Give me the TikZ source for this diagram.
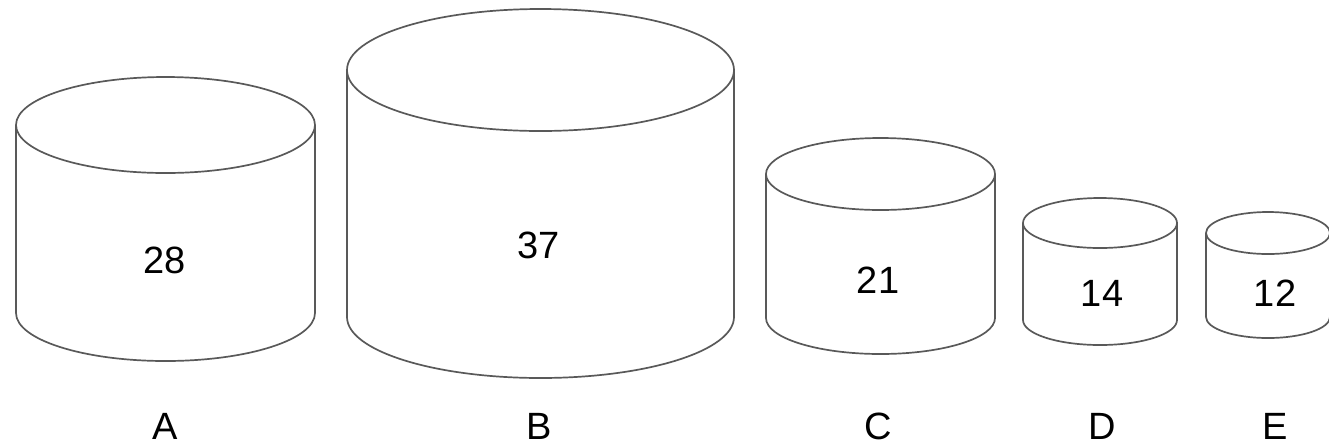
\documentclass[tikz,border=0pt]{standalone}
\usepackage{fontspec}
\setmainfont{Liberation Sans}
\usetikzlibrary{positioning}

\tikzset{
  can/.style={draw=black!65,line width=0.85pt},
  tag/.style={font=\fontsize{19}{21}\selectfont,inner sep=0pt}
}

\begin{document}
\begin{tikzpicture}[x=0.5pt,y=0.5pt]
\useasboundingbox (0,0) rectangle (1329,-446);
% cylinders: name/centre x/x radius/top y/bottom y/y radius/number/number x/number y
\foreach \n/\cx/\rx/\yt/\yb/\ry/\v/\vx/\vy in {A/165.5/149.5/125/313/48/28/165/260,
    B/540.5/193.5/70/317/61/37/539/245,
    C/880.5/114.5/174/318/36/21/878/280,
    D/1100/77/223/320/25/14/1102/293,
    E/1268/62/233/317/21/12/1275/293}{
  \draw[can] (\cx-\rx,-\yt) -- (\cx-\rx,-\yb) arc[start angle=180,end angle=360,x radius=\rx,y radius=\ry] -- (\cx+\rx,-\yt);
  \draw[can] (\cx,-\yt) ellipse[x radius=\rx,y radius=\ry];
  \node[tag] (num\n) at (\vx,-\vy) {\v};
  \node[tag,anchor=base] (lab\n) at (\vx,-439) {\n};
}
\end{tikzpicture}
\end{document}
